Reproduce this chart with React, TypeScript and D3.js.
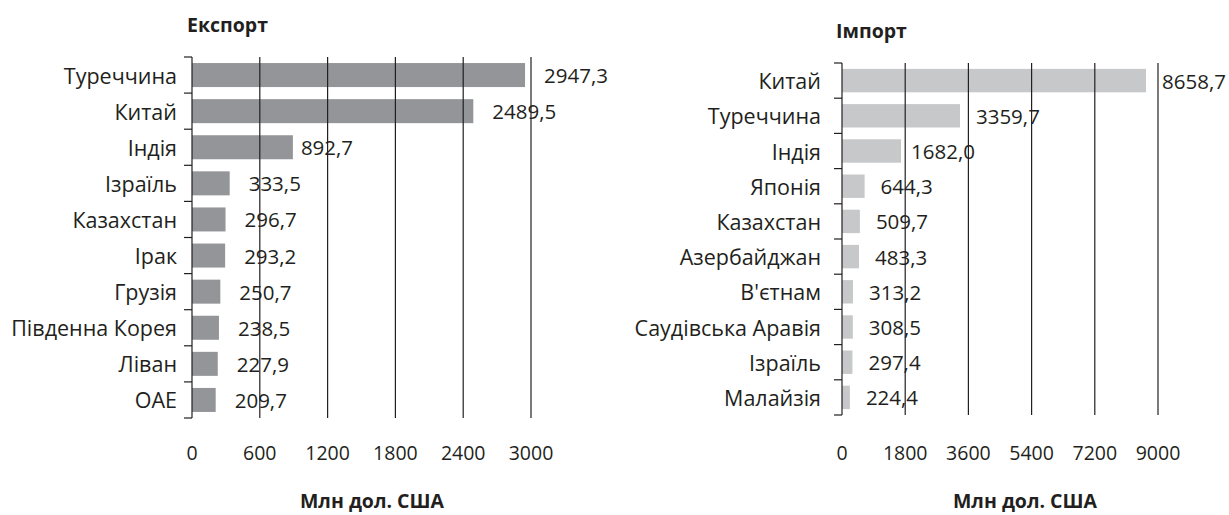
import React from "react";
import * as d3 from "d3";

const exportCountries = ["Туреччина", "Китай", "Індія", "Ізраїль", "Казахстан", "Ірак", "Грузія", "Південна Корея", "Ліван", "ОАЕ"];
const exportValues = [2947.3, 2489.5, 892.7, 333.5, 296.7, 293.2, 250.7, 238.5, 227.9, 209.7];
const exportTicks = [0, 600, 1200, 1800, 2400, 3000];

const importCountries = ["Китай", "Туреччина", "Індія", "Японія", "Казахстан", "Азербайджан", "В'єтнам", "Саудівська Аравія", "Ізраїль", "Малайзія"];
const importValues = [8658.7, 3359.7, 1682.0, 644.3, 509.7, 483.3, 313.2, 308.5, 297.4, 224.4];
const importTicks = [0, 1800, 3600, 5400, 7200, 9000];

const axisTitle = "Млн дол. США";

const FONT = "'Open Sans', sans-serif";
const INK = "#231f20";

type PanelProps = {
  title: string;
  titleX: number;
  titleY: number;
  cats: string[];
  vals: number[];
  ticks: number[];
  x0: number;
  x1: number;
  y0: number;
  y1: number;
  color: string;
  labelGap: number;
  catGap: number;
  nudge: Record<string, number>;
  axisTitleX: number;
};

function Panel(p: PanelProps) {
  const x = d3.scaleLinear().domain([0, p.ticks[p.ticks.length - 1]]).range([p.x0, p.x1]);
  const y = d3.scaleBand<string>().domain(p.cats).range([p.y0, p.y1]).paddingInner(0.335).paddingOuter(0.1675);
  const step = y.step();
  const fmt = (v: number) => v.toFixed(1).replace(".", ",");
  const boundaries = d3.range(p.cats.length + 1).map((i) => p.y0 + i * step);
  return (
    <g>
      <text x={p.titleX} y={p.titleY} fontFamily={FONT} fontWeight={700} fontSize={19.5} fill={INK} dominantBaseline="middle">
        {p.title}
      </text>
      {p.cats.map((c, i) => (
        <rect key={c} x={x(0)} y={y(c)} width={x(p.vals[i]) - x(0)} height={y.bandwidth()} fill={p.color} />
      ))}
      {p.ticks.slice(1).map((t) => (
        <line key={t} x1={x(t)} x2={x(t)} y1={p.y0} y2={p.y1} stroke={INK} strokeWidth={1.2} />
      ))}
      <line x1={x(0)} x2={x(0)} y1={p.y0} y2={p.y1} stroke={INK} strokeWidth={1.2} />
      {boundaries.map((b, i) => (
        <line key={i} x1={x(0) - 8} x2={x(0)} y1={b} y2={b} stroke={INK} strokeWidth={1.2} />
      ))}
      {p.cats.map((c) => (
        <text key={c} x={x(0) - p.catGap} y={(y(c) as number) + y.bandwidth() / 2} textAnchor="end" dominantBaseline="central" fontFamily={FONT} fontSize={21.5} fill={INK}>
          {c}
        </text>
      ))}
      {p.cats.map((c, i) => (
        <text key={c} x={x(p.vals[i]) + p.labelGap + (p.nudge[c] ?? 0)} y={(y(c) as number) + y.bandwidth() / 2} dominantBaseline="central" fontFamily={FONT} fontSize={20.5} fill={INK}>
          {fmt(p.vals[i])}
        </text>
      ))}
      {p.ticks.map((t) => (
        <text key={t} x={x(t)} y={452} textAnchor="middle" dominantBaseline="central" fontFamily={FONT} fontSize={19.5} fill={INK}>
          {t}
        </text>
      ))}
      <text x={p.axisTitleX} y={500} textAnchor="middle" dominantBaseline="central" fontFamily={FONT} fontWeight={700} fontSize={19.5} fill={INK}>
        {axisTitle}
      </text>
    </g>
  );
}

export default function App() {
  return (
    <svg width={1229} height={515} style={{ position: "absolute", left: 0, top: 0, background: "#fff" }}>
      <rect width={1229} height={515} fill="#fff" />
      <Panel
        title="Експорт"
        titleX={187}
        titleY={27}
        cats={exportCountries}
        vals={exportValues}
        ticks={exportTicks}
        x0={192}
        x1={531}
        y0={57}
        y1={418}
        color="#939598"
        labelGap={19}
        catGap={15}
        nudge={{ "Індія": -11 }}
        axisTitleX={372}
      />
      <Panel
        title="Імпорт"
        titleX={836}
        titleY={33}
        cats={importCountries}
        vals={importValues}
        ticks={importTicks}
        x0={842}
        x1={1158}
        y0={63}
        y1={415}
        color="#c7c8ca"
        labelGap={16}
        catGap={21}
        nudge={{ "Індія": -6 }}
        axisTitleX={1025}
      />
    </svg>
  );
}
